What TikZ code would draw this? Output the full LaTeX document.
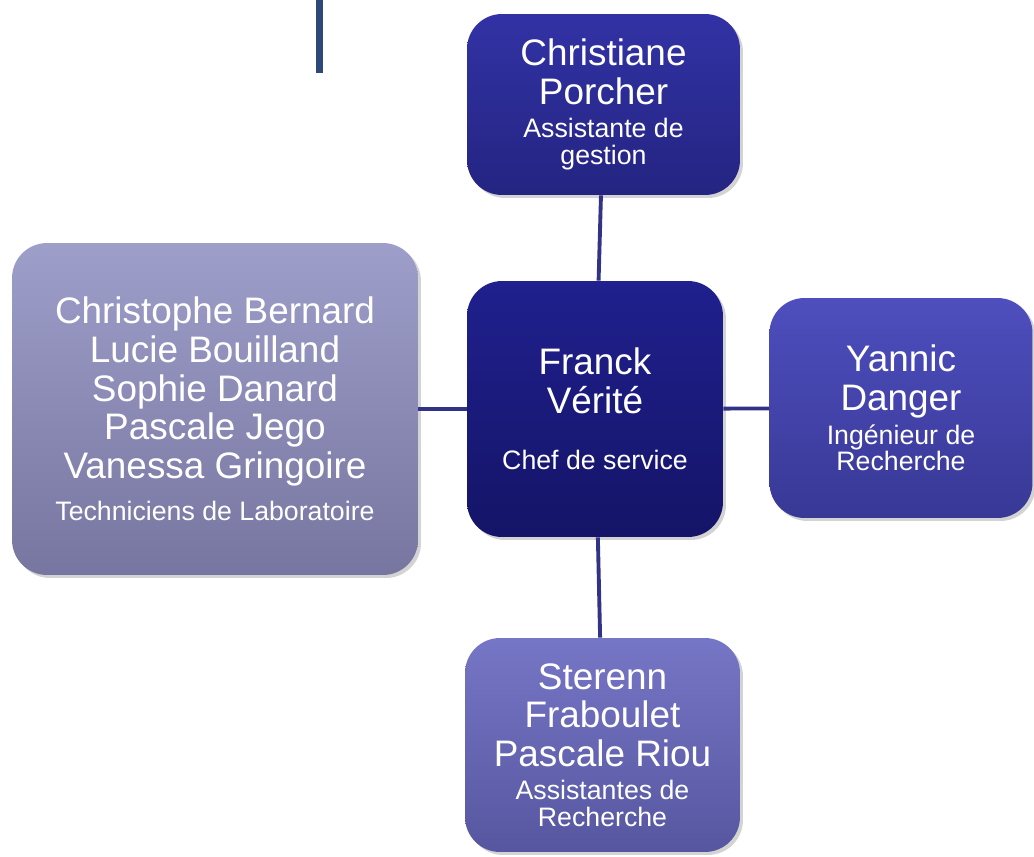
\documentclass[tikz,border=0pt]{standalone}
\usepackage{fontspec}
\setmainfont{Liberation Sans}
\usetikzlibrary{shadows}
\definecolor{linkblue}{RGB}{50,50,135}
\definecolor{barblue}{RGB}{47,72,122}
\newcommand\bigname{\fontsize{21}{22}\selectfont}
\newcommand\smallrole{\fontsize{15.2}{15.2}\selectfont}
\tikzset{
  orgbox/.style={rectangle,rounded corners=0.7cm,align=center,text=white,font=\bigname,
    inner sep=2pt,drop shadow={opacity=0.35,shadow xshift=0.06cm,shadow yshift=-0.06cm}},
  link/.style={draw=linkblue,line width=2.2pt}
}
\begin{document}
\begin{tikzpicture}[x=0.02cm,y=-0.02cm]
\useasboundingbox (0,0) rectangle (1034,856);
\fill[barblue] (316,0) rectangle (323,73);
% service members
\node[orgbox,minimum width=5.12cm,minimum height=5.12cm,top color={rgb,255:red,32;green,32;blue,142},bottom color={rgb,255:red,20;green,20;blue,104}] (chef) at (595,409)
  {Franck\\ V\'erit\'e\\[10pt] \smallrole Chef de service};
\node[orgbox,minimum width=5.46cm,minimum height=3.62cm,top color={rgb,255:red,50;green,50;blue,165},bottom color={rgb,255:red,36;green,36;blue,130}] (gestion) at (603.5,104.5)
  {Christiane\\ Porcher\\[-3pt] \smallrole Assistante de\\[-7pt] \smallrole gestion};
\node[orgbox,minimum width=5.26cm,minimum height=4.4cm,top color={rgb,255:red,78;green,78;blue,190},bottom color={rgb,255:red,56;green,56;blue,150}] (ingenieur) at (901,408)
  {Yannic\\ Danger\\[-2.5pt] \smallrole Ing\'enieur de\\[-7pt] \smallrole Recherche};
\node[orgbox,minimum width=8.12cm,minimum height=6.64cm,top color={rgb,255:red,158;green,158;blue,202},bottom color={rgb,255:red,118;green,118;blue,160}] (techniciens) at (215,409)
  {Christophe Bernard\\ Lucie Bouilland\\ Sophie Danard\\ Pascale Jego\\ Vanessa Gringoire\\[2pt] \smallrole Techniciens de Laboratoire};
\node[orgbox,minimum width=5.5cm,minimum height=4.28cm,top color={rgb,255:red,118;green,118;blue,198},bottom color={rgb,255:red,86;green,86;blue,160}] (assistantes) at (602.5,745)
  {Sterenn\\ Fraboulet\\ Pascale Riou\\[-3pt] \smallrole Assistantes de\\[-7pt] \smallrole Recherche};
% links
\draw[link] (gestion) -- (chef);
\draw[link] (techniciens) -- (chef);
\draw[link] (chef) -- (ingenieur);
\draw[link] (chef) -- (assistantes);
\end{tikzpicture}
\end{document}
